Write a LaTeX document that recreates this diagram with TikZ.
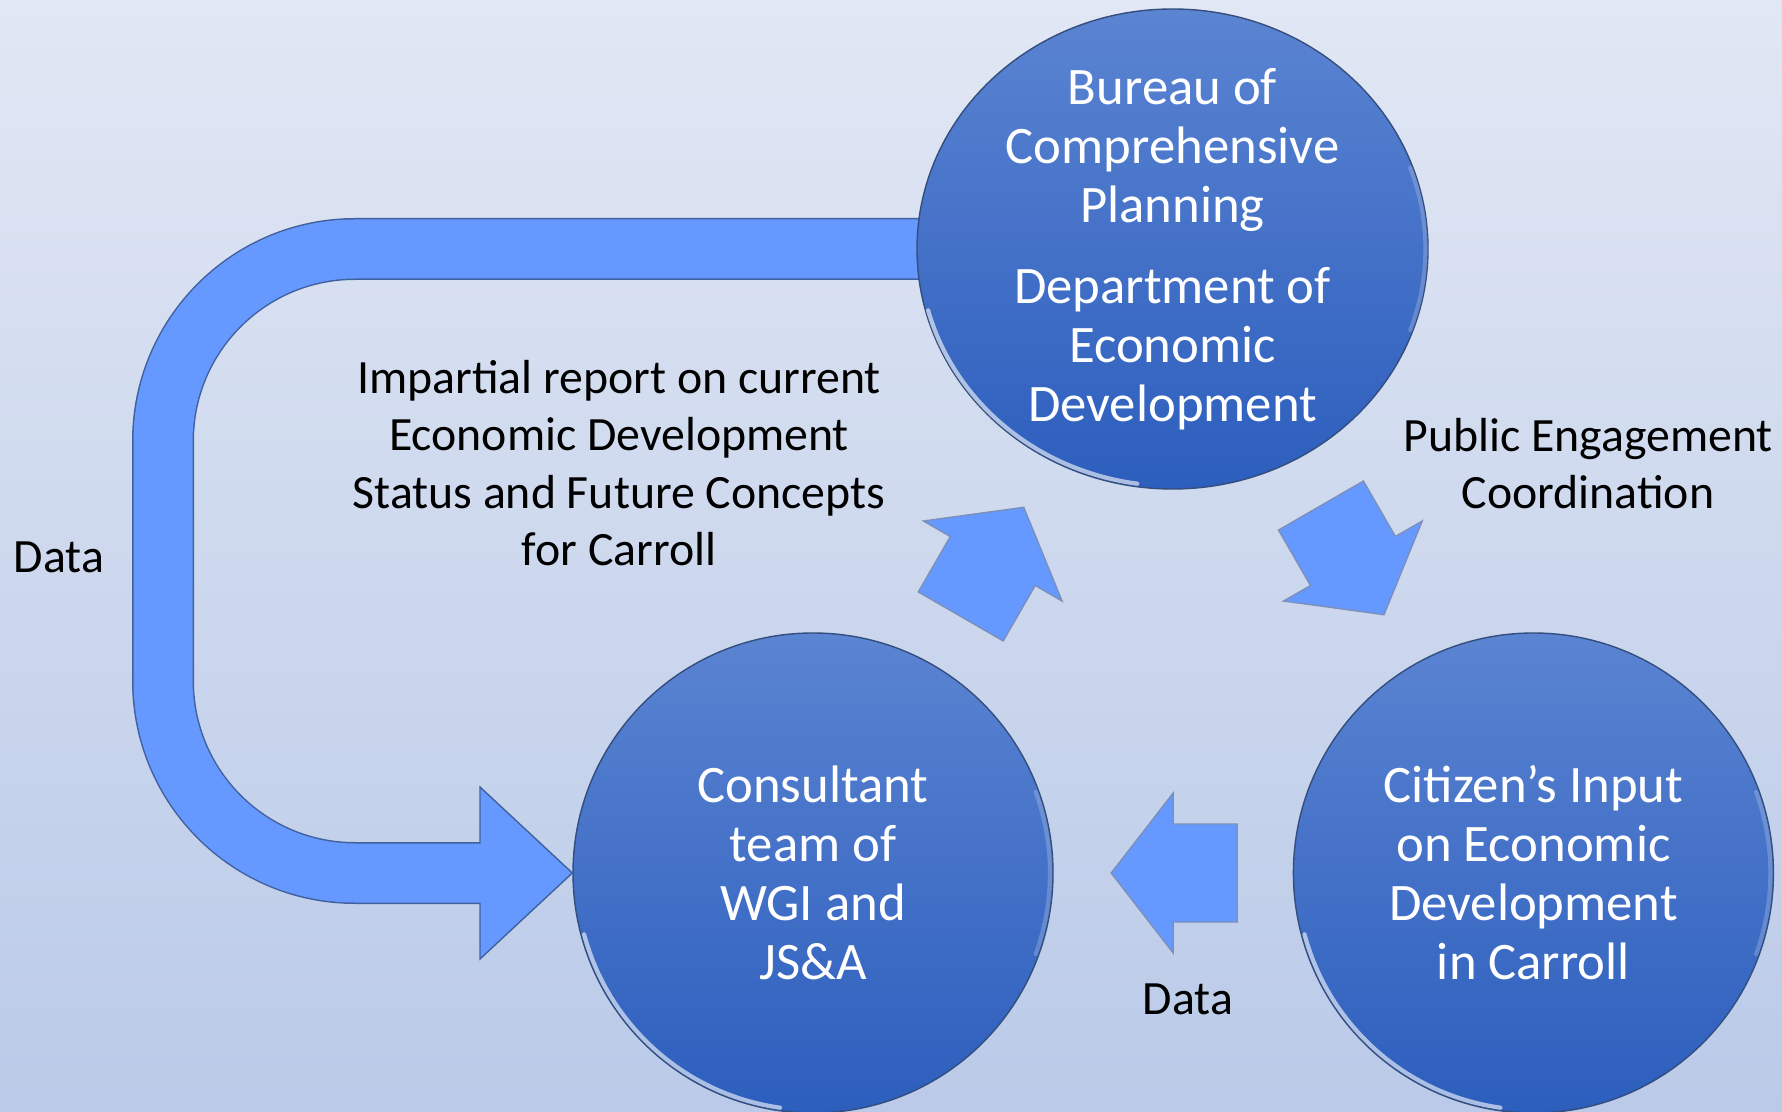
\documentclass[tikz,border=0pt]{standalone}
\usepackage{fontspec}
\setmainfont{Carlito}
\usepackage{xcolor}
\usetikzlibrary{shapes.geometric,arrows,positioning,calc}

\definecolor{circtop}{HTML}{5B84D2}
\definecolor{circbot}{HTML}{2C5EBD}
\definecolor{arrowblue}{HTML}{6699FF}
\definecolor{edgeblue}{HTML}{41619E}
\definecolor{bgtop}{HTML}{E1E7F4}
\definecolor{bgmid}{HTML}{B2C3E5}
\definecolor{bgbot}{HTML}{BACAE8}

\tikzstyle{stage} = [circle, draw=edgeblue!80!black, line width=0.4pt, top color=circtop, bottom color=circbot, text=white, align=center, font=\fontsize{15}{16.8}\selectfont, minimum size=4.8cm, inner sep=0pt]
\tikzstyle{stagetext} = [text=white, align=center, font=\fontsize{15}{16.8}\selectfont]
\tikzstyle{note} = [align=center, text=black, font=\fontsize{13.6}{16.3}\selectfont]
\tikzstyle{gloss} = [white, line width=1.2pt, line cap=round]
\tikzset{flow/.pic={
    \draw[fill=arrowblue, draw=edgeblue!70, line width=0.4pt] (-0.64,-0.49) -- (0,-0.49) -- (0,-0.80) -- (0.62,0) -- (0,0.80) -- (0,0.49) -- (-0.64,0.49) -- cycle;
}}

\begin{document}
\begin{tikzpicture}
    \useasboundingbox (0,0) rectangle (17.82,11.11);
    \shade[top color=bgtop, middle color=bgmid, bottom color=bgbot] (0,0) rectangle (17.82,11.11);

    \coordinate (bureaupos) at (11.725,8.62);
    \coordinate (consultpos) at (8.13,2.38);
    \coordinate (ubend) at (1.63,0);
    \coordinate (uhead) at (4.80,2.38);

    % big return arrow
    \draw[edgeblue, line width=0.62cm, rounded corners=1.92cm] (bureaupos) -- (ubend |- bureaupos) -- (ubend |- consultpos) -- ([xshift=0.02cm]uhead);
    \draw[arrowblue, line width=0.59cm, rounded corners=1.92cm] (bureaupos) -- (ubend |- bureaupos) -- (ubend |- consultpos) -- ([xshift=0.02cm]uhead);
    \fill[arrowblue] ([yshift=0.86cm]uhead) -- (5.73,2.38) -- ([yshift=-0.86cm]uhead) -- cycle;

    \node[stage, ellipse, minimum width=5.11cm, minimum height=4.80cm] (bureau) at (bureaupos) {};
    \node[stagetext] (bureautext) at (bureau.center) {Bureau of\\Comprehensive\\Planning\\[0.22cm]Department of\\Economic\\Development};
    \node[stage] (consult) at (consultpos) {Consultant\\team of\\WGI and\\JS\&A};
    \node[stage, right=2.39cm of consult] (citizen) {Citizen’s Input\\on Economic\\Development\\in Carroll};

    \draw[edgeblue, line width=0.4pt] ([yshift=0.295cm]uhead) -- ([yshift=0.86cm]uhead) -- (consult.west) -- ([yshift=-0.86cm]uhead) -- ([yshift=-0.295cm]uhead);

    \foreach \n/\rx/\ry in {bureau/2.53/2.37, consult/2.37/2.37, citizen/2.37/2.37} {
        \draw[gloss, opacity=0.6] ([shift={(195:\rx cm and \ry cm)}]\n.center) arc[start angle=195, end angle=262, x radius=\rx cm, y radius=\ry cm];
        \draw[gloss, opacity=0.2] ([shift={(-20:\rx cm and \ry cm)}]\n.center) arc[start angle=-20, end angle=20, x radius=\rx cm, y radius=\ry cm];
    }

    \pic[rotate=60] at ($(consult.center)!0.5!(bureau.center)$) {flow};
    \pic[rotate=-60] at ($(bureau.center)!0.5!(citizen.center)$) {flow};
    \pic[rotate=180] at ($(citizen.center)!0.5!(consult.center)$) {flow};

    \node[note] (report) at (6.19,6.48) {Impartial report on current\\Economic Development\\Status and Future Concepts\\for Carroll};
    \node[note] (dataleft) at (0.59,5.54) {Data};
    \node[note] (public) at (15.88,6.475) {Public Engagement\\Coordination};
    \node[note] (databottom) at (11.88,1.12) {Data};
\end{tikzpicture}
\end{document}
